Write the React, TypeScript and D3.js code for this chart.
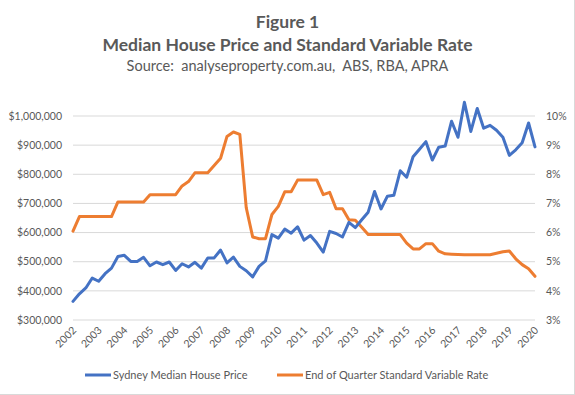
import React, { useEffect, useRef } from 'react';
import * as d3 from 'd3';

// quarterly, 2002 Q1 .. 2020 Q1
const years = d3.range(2002, 2021);
const priceK = [
    364, 390, 410, 444, 433, 459, 478, 518, 522, 501, 501, 515, 486, 499, 490, 499,
    470, 493, 482, 498, 478, 513, 513, 540, 496, 516, 484, 469, 448, 484, 503, 593,
    581, 612, 598, 620, 574, 590, 564, 533, 604, 597, 585, 635, 617, 644, 670, 741,
    681, 725, 728, 812, 790, 860, 886, 912, 849, 893, 897, 982, 927, 1047, 947, 1026,
    958, 968, 951, 927, 865, 884, 908, 976, 894
];
const svr = [
    6.05, 6.55, 6.55, 6.55, 6.55, 6.55, 6.55, 7.05, 7.05, 7.05, 7.05, 7.05, 7.3, 7.3, 7.3, 7.3,
    7.3, 7.6, 7.75, 8.05, 8.05, 8.05, 8.3, 8.55, 9.3, 9.45, 9.37, 6.85, 5.85, 5.79, 5.79, 6.62,
    6.9, 7.4, 7.4, 7.8, 7.8, 7.8, 7.8, 7.3, 7.38, 6.82, 6.82, 6.44, 6.42, 6.18, 5.93, 5.93,
    5.93, 5.93, 5.93, 5.93, 5.64, 5.44, 5.44, 5.62, 5.62, 5.36, 5.27, 5.26, 5.25, 5.24, 5.24, 5.24,
    5.24, 5.24, 5.29, 5.34, 5.37, 5.1, 4.9, 4.76, 4.5
];
const priceTicks = d3.range(300000, 1000001, 100000);
const rateTicks = d3.range(3, 11);
const seriesNames = ['Sydney Median House Price', 'End of Quarter Standard Variable Rate'];

const W = 575;
const H = 395;
const BLUE = '#4472C4';
const ORANGE = '#ED7D31';
const GREY = '#595959';
const FONT = 'Lato, "Open Sans", sans-serif';

const App: React.FC = () => {
    const svgRef = useRef<SVGSVGElement>(null);

    useEffect(() => {
        document.body.style.margin = '0';
        if (!svgRef.current) return;
        const svg = d3.select(svgRef.current);
        svg.selectAll('*').remove();

        const x = d3.scaleLinear().domain([0, priceK.length - 1]).range([73, 535]);
        const yL = d3.scaleLinear().domain([300000, 1000000]).range([320, 116]);
        const yR = d3.scaleLinear().domain([3, 10]).range([320, 116]);

        svg.append('rect').attr('width', W).attr('height', H).attr('fill', '#fff');
        svg.append('rect')
            .attr('x', -1).attr('y', -1).attr('width', W + 0.5).attr('height', H + 0.5)
            .attr('fill', 'none').attr('stroke', '#d9d9d9');

        // titles
        const titles = svg.append('g').attr('fill', GREY).attr('font-family', FONT)
            .attr('text-anchor', 'middle');
        titles.append('text').attr('x', W / 2).attr('y', 28).attr('font-size', 17.5).attr('font-weight', 'bold').text('Figure 1');
        titles.append('text').attr('x', W / 2).attr('y', 51).attr('font-size', 17.5).attr('font-weight', 'bold')
            .text('Median House Price and Standard Variable Rate');
        titles.append('text').attr('x', W / 2).attr('y', 71).attr('font-size', 14.5)
            .attr('xml:space', 'preserve').style('white-space', 'pre')
            .text('Source:  analyseproperty.com.au,  ABS, RBA, APRA');

        // gridlines
        svg.append('g').selectAll('line').data(priceTicks).enter().append('line')
            .attr('x1', 73).attr('x2', 535)
            .attr('y1', d => yL(d)).attr('y2', d => yL(d))
            .attr('stroke', '#d9d9d9').attr('stroke-width', 1);

        const fmt = d3.format(',');
        svg.append('g').selectAll('text').data(priceTicks).enter().append('text')
            .attr('x', 62).attr('y', d => yL(d)).attr('dy', '0.35em')
            .attr('text-anchor', 'end').attr('font-family', FONT).attr('font-size', 10.5).attr('fill', GREY)
            .text(d => `$${fmt(d)}`);

        svg.append('g').selectAll('text').data(rateTicks).enter().append('text')
            .attr('x', 546).attr('y', d => yR(d)).attr('dy', '0.35em')
            .attr('font-family', FONT).attr('font-size', 10.5).attr('fill', GREY)
            .text(d => `${d}%`);

        svg.append('g').selectAll('text').data(years).enter().append('text')
            .attr('transform', d => `translate(${x((d - 2002) * 4) + 4},331) rotate(-45)`)
            .attr('text-anchor', 'end').attr('font-family', FONT).attr('font-size', 10.5).attr('fill', GREY)
            .text(d => String(d));

        const linePrice = d3.line<number>().x((_, i) => x(i)).y(d => yL(d * 1000));
        const lineRate = d3.line<number>().x((_, i) => x(i)).y(d => yR(d));

        svg.append('path').datum(svr).attr('d', lineRate)
            .attr('fill', 'none').attr('stroke', ORANGE).attr('stroke-width', 3)
            .attr('stroke-linejoin', 'round').attr('stroke-linecap', 'round');
        svg.append('path').datum(priceK).attr('d', linePrice)
            .attr('fill', 'none').attr('stroke', BLUE).attr('stroke-width', 3)
            .attr('stroke-linejoin', 'round').attr('stroke-linecap', 'round');

        // legend
        const legendX = [85, 277];
        const legend = svg.append('g').selectAll('g').data(seriesNames).enter().append('g')
            .attr('transform', (_, i) => `translate(${legendX[i]},375)`);
        legend.append('line').attr('x1', 0).attr('x2', 26).attr('y1', 0).attr('y2', 0)
            .attr('stroke', (_, i) => (i === 0 ? BLUE : ORANGE)).attr('stroke-width', 3);
        legend.append('text').attr('x', 28).attr('dy', '0.35em')
            .attr('font-family', FONT).attr('font-size', 11).attr('fill', GREY)
            .text(d => d);
    }, []);

    return (
        <svg ref={svgRef} width={W} height={H} style={{ display: 'block' }} />
    );
};

export default App;
